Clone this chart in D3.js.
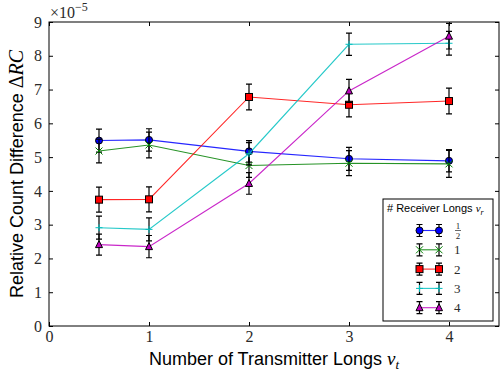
<!DOCTYPE html>
<html>
<head>
<meta charset="utf-8">
<script src="https://cdn.jsdelivr.net/npm/d3@7"></script>
<style>
  html, body { margin: 0; padding: 0; background: #fff; }
  svg { display: block; }
</style>
</head>
<body>
<svg id="chart" width="502" height="375"></svg>
<script>
// Transmitter long counts (x positions)
const transmitterLongs = [0.5, 1, 2, 3, 4];

// Relative count difference (units of 1e-5) per receiver-long count
const seriesHalf  = [5.49, 5.51, 5.17, 4.95, 4.89];
const seriesOne   = [5.18, 5.36, 4.75, 4.82, 4.80];
const seriesTwo   = [3.74, 3.75, 6.78, 6.55, 6.66];
const seriesThree = [2.91, 2.86, 5.10, 8.34, 8.37];
const seriesFour  = [2.41, 2.35, 4.22, 6.96, 8.58];

// Standard errors (units of 1e-5)
const errHalf  = [0.34, 0.33, 0.32, 0.34, 0.33];
const errOne   = [0.35, 0.38, 0.35, 0.37, 0.40];
const errTwo   = [0.37, 0.37, 0.38, 0.36, 0.38];
const errThree = [0.34, 0.34, 0.33, 0.33, 0.35];
const errFour  = [0.31, 0.33, 0.32, 0.34, 0.38];

const seriesLabels = ["1/2", "1", "2", "3", "4"];
const xTicks = [0, 1, 2, 3, 4];
const yTicks = [0, 1, 2, 3, 4, 5, 6, 7, 8, 9];

const series = [
  { label: seriesLabels[0], values: seriesHalf,  errs: errHalf,  color: "#0000ff", marker: "circle" },
  { label: seriesLabels[1], values: seriesOne,   errs: errOne,   color: "#008000", marker: "x" },
  { label: seriesLabels[2], values: seriesTwo,   errs: errTwo,   color: "#ff0000", marker: "square" },
  { label: seriesLabels[3], values: seriesThree, errs: errThree, color: "#00bfbf", marker: "plus" },
  { label: seriesLabels[4], values: seriesFour,  errs: errFour,  color: "#bf00bf", marker: "triangle" }
];

const svg = d3.select("#chart");
const margin = { left: 49, right: 3, top: 22, bottom: 49 };
const W = 502, H = 375;

const x = d3.scaleLinear().domain([0, 4.5]).range([margin.left, W - margin.right]);
const y = d3.scaleLinear().domain([0, 9]).range([H - margin.bottom, margin.top]);

const serif = "'Liberation Serif', 'DejaVu Serif', serif";
const sans = "'Liberation Sans', Arial, sans-serif";

// Axes with inward ticks on all four sides
const tickLen = 4;
const gx = svg.append("g").attr("transform", `translate(0,${y(0)})`)
  .call(d3.axisBottom(x).tickValues(xTicks).tickSize(-tickLen).tickPadding(5).tickFormat(d3.format("d")));
const gy = svg.append("g").attr("transform", `translate(${x(0)},0)`)
  .call(d3.axisLeft(y).tickValues(yTicks).tickSize(-tickLen).tickPadding(7).tickFormat(d3.format("d")));
const gxt = svg.append("g").attr("transform", `translate(0,${y(9)})`)
  .call(d3.axisTop(x).tickValues(xTicks).tickSize(-tickLen).tickFormat(""));
const gyr = svg.append("g").attr("transform", `translate(${x(4.5)},0)`)
  .call(d3.axisRight(y).tickValues(yTicks).tickSize(-tickLen).tickFormat(""));

[gx, gy, gxt, gyr].forEach(g => {
  g.select(".domain").remove();
  g.selectAll(".tick line").attr("stroke", "#000").attr("stroke-width", 1);
  g.selectAll(".tick text").attr("fill", "#2a2a2a").style("font-family", serif).style("font-size", "16px");
});

// Plot frame
svg.append("rect")
  .attr("x", x(0)).attr("y", y(9))
  .attr("width", x(4.5) - x(0)).attr("height", y(0) - y(9))
  .attr("fill", "none").attr("stroke", "#000").attr("stroke-width", 1);

// Scale multiplier
const mult = svg.append("text").attr("x", x(0) + 1).attr("y", y(9) - 4)
  .style("font-family", serif).style("font-size", "16px").attr("fill", "#2a2a2a");
mult.append("tspan").text("×10");
mult.append("tspan").attr("dy", -7).style("font-size", "12px").text("−5");

// Axis titles
const xl = svg.append("text")
  .attr("x", (x(0) + x(4.5)) / 2).attr("y", 365)
  .attr("text-anchor", "middle")
  .style("font-family", sans).style("font-size", "18px");
xl.append("tspan").text("Number of Transmitter Longs ");
xl.append("tspan").style("font-family", serif).style("font-style", "italic").style("font-size", "19px").text("v");
xl.append("tspan").attr("dy", 4).style("font-family", serif).style("font-style", "italic").style("font-size", "13px").text("t");

const yl = svg.append("text")
  .attr("transform", `translate(23,${(y(0) + y(9)) / 2}) rotate(-90)`)
  .attr("text-anchor", "middle")
  .style("font-family", sans).style("font-size", "18px");
yl.append("tspan").text("Relative Count Difference ");
yl.append("tspan").style("font-family", serif).style("font-size", "20px").text("Δ");
yl.append("tspan").style("font-family", serif).style("font-style", "italic").style("font-size", "20px").text("RC");

// Marker drawing
function drawMarker(g, type, color, cx, cy) {
  const s = 3.5;
  if (type === "circle") {
    g.append("circle").attr("cx", cx).attr("cy", cy).attr("r", s)
      .attr("fill", color).attr("stroke", "#000").attr("stroke-width", 1);
  } else if (type === "square") {
    g.append("rect").attr("x", cx - s).attr("y", cy - s).attr("width", 2 * s).attr("height", 2 * s)
      .attr("fill", color).attr("stroke", "#000").attr("stroke-width", 1);
  } else if (type === "triangle") {
    g.append("path")
      .attr("d", `M${cx},${cy - s - 0.5}L${cx + s},${cy + s - 0.5}L${cx - s},${cy + s - 0.5}Z`)
      .attr("fill", color).attr("stroke", "#000").attr("stroke-width", 1);
  } else if (type === "x") {
    g.append("path")
      .attr("d", `M${cx - s},${cy - s}L${cx + s},${cy + s}M${cx - s},${cy + s}L${cx + s},${cy - s}`)
      .attr("stroke", color).attr("stroke-width", 1);
  } else if (type === "plus") {
    g.append("path")
      .attr("d", `M${cx - s},${cy}L${cx + s},${cy}M${cx},${cy - s}L${cx},${cy + s}`)
      .attr("stroke", color).attr("stroke-width", 1);
  }
}

function drawErrorBar(g, cx, yTop, yBot) {
  const cap = 3;
  g.append("path")
    .attr("d", `M${cx},${yTop}L${cx},${yBot}M${cx - cap},${yTop}L${cx + cap},${yTop}M${cx - cap},${yBot}L${cx + cap},${yBot}`)
    .attr("stroke", "#000").attr("stroke-width", 1.2).attr("fill", "none");
}

const line = d3.line().x(d => x(d[0])).y(d => y(d[1]));
const plot = svg.append("g");

series.forEach(s => {
  const g = plot.append("g");
  const pts = transmitterLongs.map((t, i) => [t, s.values[i]]);
  g.append("path").datum(pts).attr("d", line)
    .attr("fill", "none").attr("stroke", s.color).attr("stroke-width", 1.1).attr("stroke-opacity", 0.85);
  pts.forEach((p, i) => {
    drawErrorBar(g, x(p[0]), y(p[1] + s.errs[i]), y(p[1] - s.errs[i]));
  });
  pts.forEach(p => drawMarker(g, s.marker, s.color, x(p[0]), y(p[1])));
});

// Legend
const lg = svg.append("g");
const lx = 383, ly = 199, lw = 110, lh = 122;
lg.append("rect").attr("x", lx).attr("y", ly).attr("width", lw).attr("height", lh)
  .attr("fill", "#fff").attr("stroke", "#000").attr("stroke-width", 1);
const lt = lg.append("text").attr("x", lx + 4).attr("y", ly + 13)
  .style("font-family", sans).style("font-size", "11px");
lt.append("tspan").text("# Receiver Longs ");
lt.append("tspan").style("font-family", serif).style("font-style", "italic").text("v");
lt.append("tspan").attr("dy", 3).style("font-family", serif).style("font-style", "italic").style("font-size", "8px").text("r");

series.forEach((s, i) => {
  const cy = 230.5 + i * 19.3;
  const x1 = 419.5, x2 = 439;
  lg.append("line").attr("x1", x1).attr("x2", x2).attr("y1", cy).attr("y2", cy)
    .attr("stroke", s.color).attr("stroke-width", 1.1).attr("stroke-opacity", 0.85);
  drawErrorBar(lg, x1, cy - 6, cy + 6);
  drawErrorBar(lg, x2, cy - 6, cy + 6);
  drawMarker(lg, s.marker, s.color, x1, cy);
  drawMarker(lg, s.marker, s.color, x2, cy);
  const parts = s.label.split("/");
  if (parts.length === 2) {
    // stacked fraction: numerator over denominator with a rule
    const fx = 458;
    lg.append("text").attr("x", fx).attr("y", cy - 2).attr("text-anchor", "middle")
      .style("font-family", serif).style("font-size", "9px").attr("fill", "#2a2a2a").text(parts[0]);
    lg.append("line").attr("x1", fx - 3).attr("x2", fx + 3).attr("y1", cy).attr("y2", cy)
      .attr("stroke", "#2a2a2a").attr("stroke-width", 0.7);
    lg.append("text").attr("x", fx).attr("y", cy + 8).attr("text-anchor", "middle")
      .style("font-family", serif).style("font-size", "9px").attr("fill", "#2a2a2a").text(parts[1]);
  } else {
    lg.append("text").attr("x", 454).attr("y", cy).attr("dy", "0.35em")
      .style("font-family", serif).style("font-size", "13px").attr("fill", "#2a2a2a")
      .text(s.label);
  }
});
</script>
</body>
</html>
